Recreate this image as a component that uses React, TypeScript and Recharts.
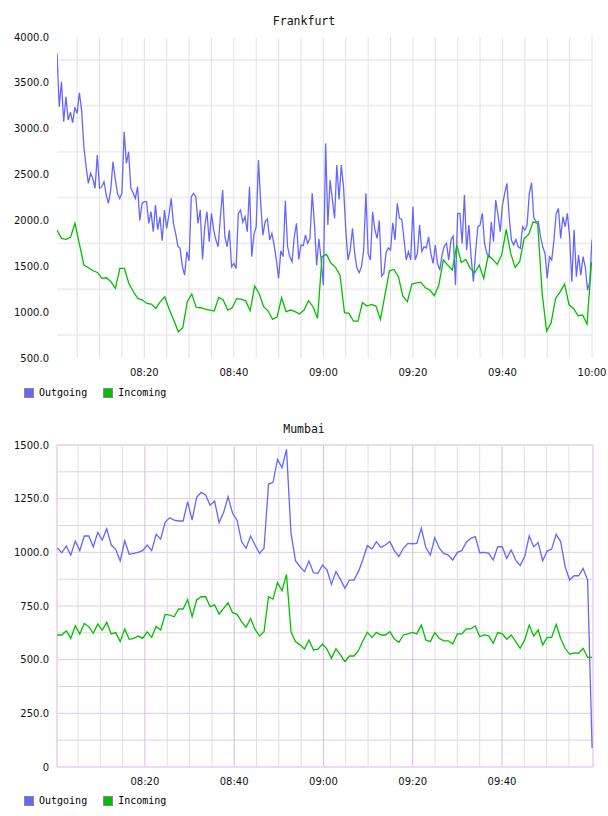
import { LineChart, Line, XAxis, YAxis, CartesianGrid, Legend } from "recharts";

// time helpers: everything on the x axis is "minutes after 08:00"
const mins = (hms: string) => {
  const [h, m, s] = hms.split(":").map(Number);
  return (h - 8) * 60 + m + (s || 0) / 60;
};
const evenTimes = (first: string, last: string, n: number) => {
  const a = mins(first);
  const b = mins(last);
  return Array.from({ length: n }, (_, i) => a + ((b - a) * i) / (n - 1));
};
const hhmm = (t: number) => {
  const total = Math.round(t);
  const h = 8 + Math.floor(total / 60);
  const m = total % 60;
  return `${String(h).padStart(2, "0")}:${String(m).padStart(2, "0")}`;
};

const seriesNames = ["Outgoing", "Incoming"];
const seriesColors = ["#6666ff", "#00c000"];

const timeTicks = [20, 40, 60, 80, 100, 120];
const fiveMinuteMarks = [
  5, 10, 15, 20, 25, 30, 35, 40, 45, 50, 55, 60, 65, 70, 75, 80, 85, 90, 95,
  100, 105, 110, 115, 120,
];

// ---- Frankfurt ----
const frankfurtOutgoing = [
  3822, 3240, 3512, 3076, 3349, 3095, 3180, 3065, 3233, 3167,
  3393, 3200, 2800, 2586, 2404, 2513, 2458, 2350, 2713, 2350,
  2368, 2422, 2277, 2186, 2331, 2640, 2458, 2295, 2240, 2295,
  2967, 2622, 2749, 2350, 2302, 2240, 2368, 2000, 2186, 2204,
  2204, 1968, 2095, 1877, 2168, 1900, 2040, 1779, 2113, 1913,
  2059, 2240, 1968, 1859, 1720, 1695, 1500, 1404, 1659, 1560,
  2259, 2295, 2259, 1968, 2113, 1575, 1931, 2095, 1768, 2077,
  1895, 1786, 1713, 2040, 2331, 1822, 1713, 1895, 1495, 1532,
  1477, 2077, 2113, 1980, 2040, 1877, 2368, 1604, 1851, 1931,
  2658, 2186, 1840, 1990, 2015, 1786, 1859, 1731, 1568, 1368,
  1670, 1604, 2215, 1713, 1604, 1550, 1822, 1968, 1575, 1731,
  1724, 1840, 1750, 1804, 2295, 1968, 1513, 1800, 1568, 1295,
  2840, 1950, 2440, 2230, 2022, 2604, 2230, 2604, 2368, 1900,
  1568, 1677, 1913, 1640, 1477, 1430, 1495, 1677, 2295, 1640,
  1568, 2095, 1900, 1804, 1997, 1393, 1422, 1650, 1700, 1677,
  1975, 1786, 2186, 2022, 2011, 1800, 1568, 1659, 1568, 2150,
  1568, 1640, 1950, 1660, 1713, 1700, 1822, 1640, 1532, 1731,
  1532, 1459, 1622, 1720, 1750, 1568, 1786, 1830, 1295, 2077,
  2077, 1750, 2277, 1677, 1950, 1604, 1332, 1650, 1931, 1950,
  2077, 1750, 1640, 1604, 1986, 1768, 2222, 2059, 1877, 2168,
  2295, 2404, 2040, 1786, 1731, 1793, 1713, 1695, 1931, 1895,
  1950, 2295, 2411, 2030, 1986, 1986, 1822, 1713, 1640, 1368,
  1604, 1568, 1786, 2077, 2131, 1804, 2040, 1931, 2077, 1822,
  1332, 1895, 1386, 1622, 1404, 1604, 1495, 1240, 1332, 1793,
];
const frankfurtIncoming = [
  1895, 1804, 1793, 1815, 1968, 1740, 1513, 1484, 1451, 1433,
  1368, 1375, 1332, 1259, 1477, 1477, 1313, 1222, 1150, 1132,
  1095, 1088, 1041, 1114, 1168, 1030, 914, 786, 830, 1114,
  1197, 1052, 1048, 1034, 1023, 1012, 1161, 1132, 1023, 1048,
  1148, 1143, 1124, 1015, 1284, 1204, 1059, 1012, 921, 950,
  1157, 1005, 1023, 1005, 979, 1023, 1124, 1059, 932, 1604,
  1630, 1532, 1488, 1404, 994, 986, 903, 903, 1103, 1066,
  1084, 1066, 921, 1186, 1451, 1466, 1386, 1175, 1114, 1306,
  1318, 1324, 1266, 1241, 1179, 1295, 1568, 1513, 1459, 1731,
  1542, 1575, 1477, 1430, 1513, 1368, 1622, 1575, 1520, 1622,
  1902, 1640, 1488, 1550, 1804, 1848, 1986, 1968, 1204, 794,
  885, 1150, 1222, 1306, 1077, 1041, 961, 968, 870, 1550,
];
const frankfurtOutTimes = evenTimes("08:00:30", "10:00:00", frankfurtOutgoing.length);
const frankfurtInTimes = evenTimes("08:00:30", "09:59:54", frankfurtIncoming.length);
const frankfurtYTicks = [500, 1000, 1500, 2000, 2500, 3000, 3500, 4000];
const frankfurtGridY = [750, 1250, 1750, 2250, 2750, 3250, 3750];

// ---- Mumbai ----
const mumbaiOutgoing = [
  1021, 998, 1029, 987, 1053, 1008, 1076, 1076, 1026, 1093,
  1057, 1110, 1034, 1014, 960, 1054, 991, 995, 1000, 1008,
  1034, 1008, 1084, 1061, 1141, 1161, 1150, 1146, 1146, 1236,
  1150, 1256, 1279, 1267, 1220, 1239, 1138, 1185, 1259, 1182,
  1150, 1050, 1019, 1076, 1034, 995, 1019, 1318, 1326, 1433,
  1394, 1480, 1089, 961, 933, 910, 960, 905, 902, 941,
  918, 851, 910, 874, 832, 871, 871, 910, 967, 1031,
  1015, 1050, 1023, 1034, 1050, 1008, 980, 1019, 1042, 1040,
  1042, 1112, 1022, 987, 1068, 1019, 995, 987, 964, 1000,
  1008, 1047, 1065, 1073, 998, 1000, 995, 964, 1026, 1026,
  972, 1011, 964, 938, 980, 1076, 1026, 1045, 961, 1006,
  1015, 1084, 1050, 933, 871, 891, 891, 925, 871, 88,
];
const mumbaiIncoming = [
  615, 615, 635, 599, 658, 620, 669, 654, 623, 666,
  638, 674, 620, 626, 584, 643, 595, 599, 610, 599,
  630, 604, 654, 638, 711, 708, 700, 736, 736, 780,
  700, 778, 793, 793, 747, 755, 713, 739, 765, 719,
  711, 677, 651, 692, 641, 610, 630, 793, 782, 860,
  821, 897, 630, 584, 569, 549, 592, 545, 549, 573,
  549, 506, 551, 522, 491, 517, 517, 542, 588, 627,
  604, 627, 615, 615, 630, 596, 581, 615, 620, 627,
  620, 661, 592, 584, 626, 599, 588, 588, 573, 620,
  620, 643, 643, 657, 607, 615, 611, 576, 626, 620,
  595, 615, 584, 553, 592, 661, 610, 638, 569, 604,
  604, 665, 599, 553, 525, 532, 530, 553, 511, 511,
];
const mumbaiTimes = evenTimes("08:00:22", "10:00:12", mumbaiOutgoing.length);
const mumbaiYTicks = [0, 250, 500, 750, 1000, 1250, 1500];
const mumbaiMinorY = [125, 375, 625, 875, 1125, 1375];
const mumbaiMajorY = [250, 500, 750, 1000, 1250];
const mumbaiTimeTicks = [20, 40, 60, 80, 100];
const mumbaiMajorX = [20, 40, 60, 80, 100];
const mumbaiMinorX = fiveMinuteMarks.filter((m) => m % 20 !== 0 && m < 120);

const toPoints = (times: number[], values: number[]) =>
  values.map((v, i) => ({ t: times[i], v }));

const tickStyle = { fontFamily: '"DejaVu Sans", Verdana, sans-serif', fontSize: 10, fill: "#111" };

const LegendRow = () => (
  <div
    style={{
      display: "flex",
      alignItems: "center",
      fontFamily: '"DejaVu Sans Mono", monospace',
      fontSize: 10,
      color: "#000",
      whiteSpace: "nowrap",
    }}
  >
    {seriesNames.map((name, i) => (
      <span key={name} style={{ display: "flex", alignItems: "center", marginRight: 16 }}>
        <span
          style={{
            width: 8,
            height: 8,
            background: seriesColors[i],
            border: "1px solid #888",
            marginRight: 5,
          }}
        />
        {name}
      </span>
    ))}
  </div>
);

interface PanelProps {
  title: string;
  children: React.ReactNode;
}

function Panel({ title, children }: PanelProps) {
  return (
    <div style={{ position: "relative", width: 608, height: 408 }}>
      <div
        style={{
          position: "absolute",
          top: 14,
          left: 0,
          width: 608,
          textAlign: "center",
          fontFamily: '"DejaVu Sans Mono", monospace',
          fontSize: 11.5,
          color: "#111",
          zIndex: 2,
        }}
      >
        {title}
      </div>
      {children}
    </div>
  );
}

function Frankfurt() {
  return (
    <Panel title="Frankfurt">
      <LineChart width={608} height={408} margin={{ top: 37, right: 16, left: 0, bottom: 0 }}>
        <CartesianGrid vertical={false} horizontalValues={frankfurtGridY} stroke="#efefef" strokeWidth={2} />
        <CartesianGrid horizontal={false} verticalValues={fiveMinuteMarks} stroke="#e2e2e2" />
        <XAxis
          type="number"
          dataKey="t"
          domain={[mins("08:00:30"), mins("10:00:00")]}
          allowDataOverflow
          ticks={timeTicks}
          interval={0}
          tickFormatter={hhmm}
          axisLine={false}
          tickLine={false}
          tickMargin={5}
          height={50}
          tick={tickStyle}
        />
        <YAxis
          type="number"
          domain={[500, 4000]}
          ticks={frankfurtYTicks}
          interval={0}
          tickFormatter={(v: number) => v.toFixed(1)}
          axisLine={false}
          tickLine={false}
          width={57}
          tick={tickStyle}
        />
        <Legend
          layout="horizontal"
          verticalAlign="middle"
          align="center"
          content={() => <LegendRow />}
          wrapperStyle={{ left: 24, top: 387, width: "auto" }}
        />
        <Line
          data={toPoints(frankfurtOutTimes, frankfurtOutgoing)}
          dataKey="v"
          name={seriesNames[0]}
          type="linear"
          stroke={seriesColors[0]}
          strokeWidth={1.3}
          dot={false}
          isAnimationActive={false}
        />
        <Line
          data={toPoints(frankfurtInTimes, frankfurtIncoming)}
          dataKey="v"
          name={seriesNames[1]}
          type="linear"
          stroke={seriesColors[1]}
          strokeWidth={1.3}
          dot={false}
          isAnimationActive={false}
        />
      </LineChart>
    </Panel>
  );
}

function Mumbai() {
  const xDomain = [mins("08:00:18"), mins("10:00:24")];
  return (
    <Panel title="Mumbai">
      <LineChart width={608} height={408} margin={{ top: 37, right: 15, left: 0, bottom: 0 }}>
        <CartesianGrid vertical={false} horizontalValues={mumbaiMinorY} stroke="#dcd4dc" />
        <CartesianGrid vertical={false} horizontalValues={mumbaiMajorY} stroke="#e6c8e6" />
        <CartesianGrid horizontal={false} verticalValues={mumbaiMinorX} stroke="#e4dce4" />
        <CartesianGrid horizontal={false} verticalValues={mumbaiMajorX} stroke="#d8bcd8" />
        <CartesianGrid horizontalValues={[0, 1500]} verticalValues={xDomain} stroke="#efd9ef" strokeWidth={2} />
        <XAxis
          type="number"
          dataKey="t"
          domain={xDomain}
          allowDataOverflow
          ticks={mumbaiTimeTicks}
          interval={0}
          tickFormatter={hhmm}
          axisLine={false}
          tickLine={false}
          tickMargin={5}
          height={49}
          tick={tickStyle}
        />
        <YAxis
          type="number"
          domain={[0, 1500]}
          ticks={mumbaiYTicks}
          interval={0}
          tickFormatter={(v: number) => (v === 0 ? "0" : v.toFixed(1))}
          axisLine={false}
          tickLine={false}
          width={57}
          tick={tickStyle}
        />
        <Legend
          layout="horizontal"
          verticalAlign="middle"
          align="center"
          content={() => <LegendRow />}
          wrapperStyle={{ left: 24, top: 387, width: "auto" }}
        />
        <Line
          data={toPoints(mumbaiTimes, mumbaiOutgoing)}
          dataKey="v"
          name={seriesNames[0]}
          type="linear"
          stroke={seriesColors[0]}
          strokeWidth={1.3}
          dot={false}
          isAnimationActive={false}
        />
        <Line
          data={toPoints(mumbaiTimes, mumbaiIncoming)}
          dataKey="v"
          name={seriesNames[1]}
          type="linear"
          stroke={seriesColors[1]}
          strokeWidth={1.3}
          dot={false}
          isAnimationActive={false}
        />
      </LineChart>
    </Panel>
  );
}

export default function App() {
  return (
    <div style={{ position: "absolute", left: 0, top: 0, width: 608, height: 816, background: "#fff" }}>
      <Frankfurt />
      <Mumbai />
    </div>
  );
}
